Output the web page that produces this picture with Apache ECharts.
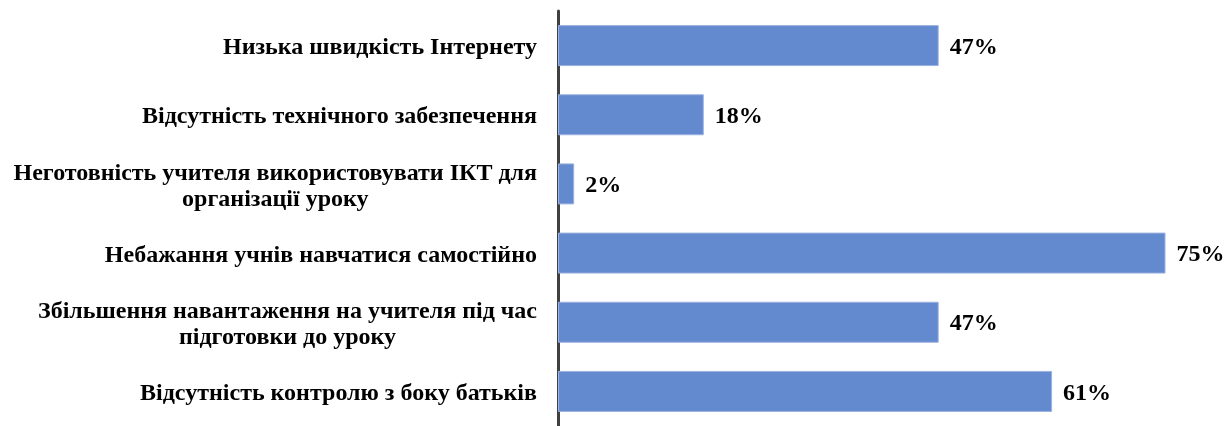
<!DOCTYPE html>
<html>
<head>
<meta charset="utf-8">
<script src="https://cdn.jsdelivr.net/npm/echarts@6/dist/echarts.min.js"></script>
<style>
    html, body { margin: 0; padding: 0; background: #fff; }
    #chart { width: 1232px; height: 426px; }
</style>
</head>
<body>
<div id="chart"></div>
<script>
!function(){

    // категорії (зверху вниз)
    const categories = [
        'Низька швидкість Інтернету',
        'Відсутність технічного забезпечення',
        'Неготовність учителя використовувати ІКТ для\nорганізації уроку',
        'Небажання учнів навчатися самостійно',
        'Збільшення навантаження на учителя під час\nпідготовки до уроку',
        'Відсутність контролю з боку батьків'
    ]
    const values = [47, 18, 2, 75, 47, 61]

    const font = '"Liberation Serif", "Times New Roman", serif'

    let chart = echarts.init(document.getElementById('chart'))

    let option = {
        animation: false,
        grid: {
            left: 558,
            right: 26,
            top: 11,
            bottom: -8,
            containLabel: false
        },
        xAxis: {
            type: 'value',
            min: 0,
            max: 80,
            show: false
        },
        yAxis: {
            type: 'category',
            data: categories,
            inverse: true,
            axisTick: { show: false },
            axisLine: {
                show: true,
                lineStyle: { color: '#404040', width: 3 }
            },
            axisLabel: {
                margin: 21,
                align: 'right',
                padding: [5, 0, 0, 0],
                formatter: (v) => v.split('\n').map(s => '{c|' + s + '}').join('\n'),
                rich: {
                    c: {
                        align: 'center',
                        fontFamily: font,
                        fontWeight: 'bold',
                        fontSize: 24,
                        lineHeight: 26,
                        color: '#000'
                    }
                }
            }
        },
        series: [{
            type: 'bar',
            data: values,
            barWidth: 41,
            itemStyle: {
                color: '#6389CF',
                borderColor: '#9DB3E0',
                borderWidth: 1
            },
            label: {
                show: true,
                position: 'right',
                distance: 11,
                offset: [0, 2],
                formatter: '{c}%',
                fontFamily: font,
                fontWeight: 'bold',
                fontSize: 24,
                color: '#000'
            },
            z: 1
        }]
    }

    chart.setOption(option)

}()
</script>
</body>
</html>
